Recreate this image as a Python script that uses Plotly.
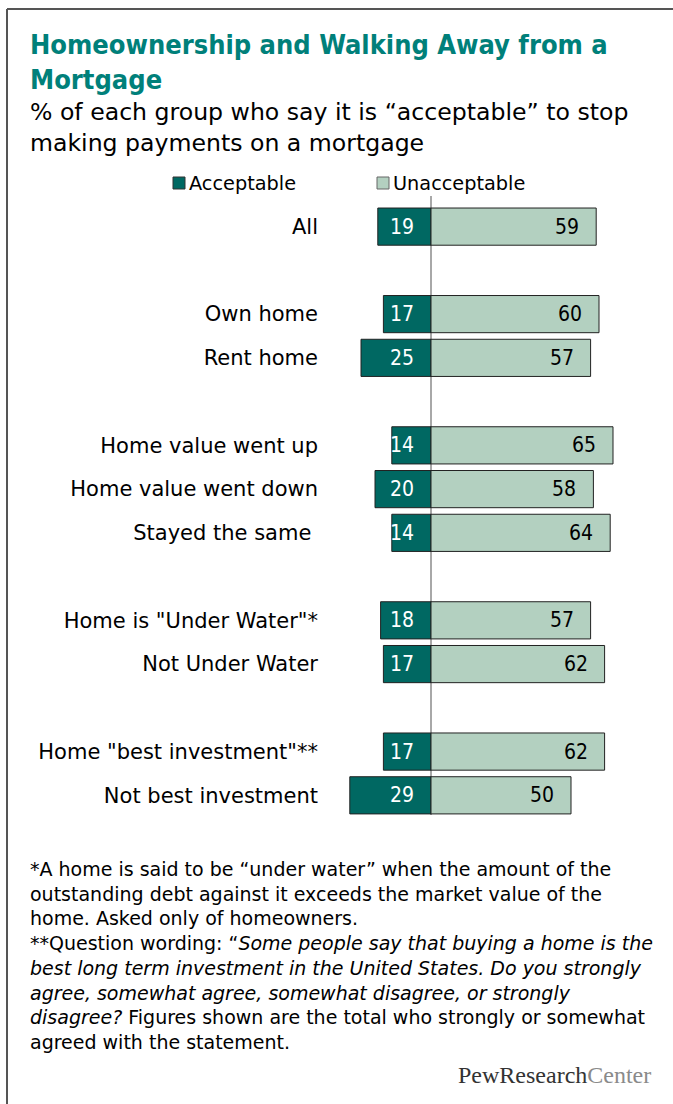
import plotly.graph_objects as go

# ---- data -------------------------------------------------------------
categories = [
    "All",
    "Own home",
    "Rent home",
    "Home value went up",
    "Home value went down",
    "Stayed the same\u00a0",
    'Home is "Under Water"*',
    "Not Under Water",
    'Home "best investment"**',
    "Not best investment",
]
row_pos = [0, 2, 3, 5, 6, 7, 9, 10, 12, 13]
acceptable = [19, 17, 25, 14, 20, 14, 18, 17, 17, 29]
unacceptable = [59, 60, 57, 65, 58, 64, 57, 62, 62, 50]

series_names = ["Acceptable", "Unacceptable"]
title_lines = ["Homeownership and Walking Away from a", "Mortgage"]
subtitle_lines = ["% of each group who say it is \u201cacceptable\u201d to stop",
                  "making payments on a mortgage"]
footnote_lines = [
    "*A home is said to be \u201cunder water\u201d when the amount of the",
    "outstanding debt against it exceeds the market value of the",
    "home. Asked only of homeowners.",
    "**Question wording: \u201c<i>Some people say that buying a home is the</i>",
    "<i>best long term investment in the United States. Do you strongly</i>",
    "<i>agree, somewhat agree, somewhat disagree, or strongly</i>",
    "<i>disagree?</i> Figures shown are the total who strongly or somewhat",
    "agreed with the statement.",
]

# ---- styling ----------------------------------------------------------
W, H = 673, 1104
ML, MR, MT, MB = 322, 13, 196, 289
PW, PH = W - ML - MR, H - MT - MB
FONT = "DejaVu Sans, Noto Sans, sans-serif"
FONT_NARROW = "DejaVu Sans Condensed, Noto Sans, sans-serif"
TEAL_DARK = "#006862"
TEAL_LIGHT = "#b3d0c0"
TITLE_COLOR = "#00807a"


def px(x):
    return (x - ML) / PW


def py(y):
    return (H - MB - y) / PH


fig = go.Figure()
fig.add_trace(go.Bar(
    name=series_names[0], orientation="h", y=row_pos,
    x=[-v for v in acceptable], width=0.85,
    marker=dict(color=TEAL_DARK, line=dict(color="#222222", width=1)),
    hoverinfo="skip", showlegend=False,
))
fig.add_trace(go.Bar(
    name=series_names[1], orientation="h", y=row_pos,
    x=unacceptable, width=0.85,
    marker=dict(color=TEAL_LIGHT, line=dict(color="#222222", width=1)),
    hoverinfo="skip", showlegend=False,
))

annotations = []
# value labels
for r, a, u in zip(row_pos, acceptable, unacceptable):
    annotations.append(dict(x=0, y=r, xref="x", yref="y", text=str(a),
                            xanchor="right", yanchor="middle", xshift=-15,
                            showarrow=False,
                            font=dict(family=FONT_NARROW, size=21, color="white")))
    annotations.append(dict(x=u, y=r, xref="x", yref="y", text=str(u),
                            xanchor="right", yanchor="middle", xshift=-15,
                            showarrow=False,
                            font=dict(family=FONT_NARROW, size=21, color="black")))

# title and subtitle
annotations.append(dict(x=px(28), y=py(27), xref="paper", yref="paper",
                        text="<br>".join(title_lines), align="left",
                        xanchor="left", yanchor="top", showarrow=False,
                        font=dict(family=FONT_NARROW, size=27, color=TITLE_COLOR,
                                  weight="bold")))
annotations.append(dict(x=px(28), y=py(96), xref="paper", yref="paper",
                        text="<br>".join(subtitle_lines), align="left",
                        xanchor="left", yanchor="top", showarrow=False,
                        font=dict(family=FONT, size=23.6, color="black")))

# legend
shapes = []
legend_items = [(173, series_names[0], TEAL_DARK, "#333333"),
                (377, series_names[1], TEAL_LIGHT, "#666666")]
for x0, name, fill, edge in legend_items:
    shapes.append(dict(type="rect", xref="paper", yref="paper",
                       x0=px(x0), x1=px(x0 + 12), y0=py(177), y1=py(189),
                       fillcolor=fill, line=dict(color=edge, width=1)))
    annotations.append(dict(x=px(x0 + 14), y=py(183), xref="paper",
                            yref="paper", text=name, xanchor="left",
                            yanchor="middle", showarrow=False,
                            font=dict(family=FONT, size=19.3, color="black")))

# footnote
annotations.append(dict(x=px(28), y=py(856), xref="paper", yref="paper",
                        text="<br>".join(footnote_lines), align="left",
                        xanchor="left", yanchor="top", showarrow=False,
                        font=dict(family=FONT, size=19, color="black")))

# source logo
annotations.append(dict(x=px(653), y=py(1075), xref="paper", yref="paper",
                        text="PewResearch<span style='color:#8a8a8a'>Center</span>",
                        xanchor="right", yanchor="middle", showarrow=False,
                        font=dict(family="Liberation Serif, serif", size=24,
                                  color="#333333")))

# frame around the graphic (top and left edges)
shapes.append(dict(type="line", xref="paper", yref="paper",
                   x0=px(7), x1=px(W + 5), y0=py(9), y1=py(9),
                   line=dict(color="#555555", width=2)))
shapes.append(dict(type="line", xref="paper", yref="paper",
                   x0=px(7), x1=px(7), y0=py(9), y1=py(H + 5),
                   line=dict(color="#555555", width=2)))

fig.update_layout(
    width=W, height=H,
    margin=dict(l=ML, r=MR, t=MT, b=MB),
    paper_bgcolor="white", plot_bgcolor="white",
    barmode="relative",
    showlegend=False,
    annotations=annotations,
    shapes=shapes,
    xaxis=dict(range=[-(431 - ML) / 2.8, (W - MR - 431) / 2.8],
               showgrid=False, showticklabels=False, ticks="",
               zeroline=True, zerolinecolor="#a8a8a8", zerolinewidth=1.5,
               fixedrange=True),
    yaxis=dict(range=[13.45, -0.7], tickvals=row_pos, ticktext=categories,
               showgrid=False, zeroline=False, ticks="", showline=False,
               ticklabelstandoff=3,
               tickfont=dict(family=FONT, size=21, color="black"),
               fixedrange=True),
)

fig.write_html("out.html", config={"displayModeBar": False})
